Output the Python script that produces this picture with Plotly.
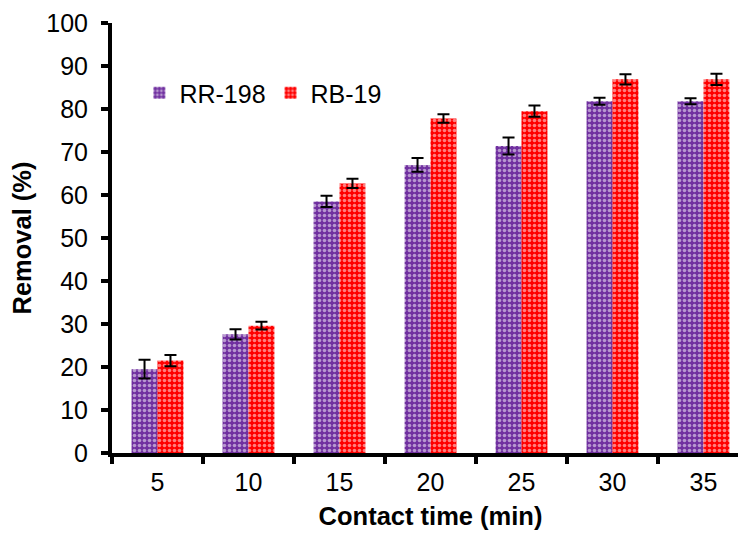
import plotly.graph_objects as go

categories = ["5", "10", "15", "20", "25", "30", "35"]
rr198 = [19.5, 27.6, 58.5, 67.0, 71.4, 81.8, 81.8]
rr198_err = [2.2, 1.2, 1.3, 1.6, 2.0, 0.8, 0.7]
rb19 = [21.5, 29.6, 62.7, 77.8, 79.5, 86.9, 86.9]
rb19_err = [1.3, 0.9, 1.1, 1.0, 1.3, 1.2, 1.3]

PURPLE = "#7030A0"
RED = "#FF0000"

fig = go.Figure()
for name, vals, errs, col in [("RR-198", rr198, rr198_err, PURPLE), ("RB-19", rb19, rb19_err, RED)]:
    fig.add_trace(go.Bar(
        x=categories, y=vals, name=name,
        marker=dict(color=col, line=dict(width=0),
                    pattern=dict(shape=".", size=5, solidity=0.4, fgcolor="white", bgcolor=col)),
        error_y=dict(type="data", array=errs, visible=True, color="black", thickness=2, width=6),
    ))

font = "Liberation Sans, Arial, sans-serif"
fig.update_layout(
    width=746, height=533,
    margin=dict(l=104, r=5, t=15, b=88, autoexpand=False),
    paper_bgcolor="white", plot_bgcolor="white",
    barmode="group", bargap=0.43, bargroupgap=0,
    font=dict(family=font, size=25, color="black"),
    legend=dict(orientation="h", x=0.043, y=0.837, xanchor="left", yanchor="middle",
                font=dict(size=25), itemwidth=30, bgcolor="rgba(0,0,0,0)"),
    xaxis=dict(title=dict(text="<b>Contact time (min)</b>", font=dict(size=25.5), standoff=13),
               automargin=False,
               showline=True, linecolor="black", linewidth=4,
               ticks="outside", tickson="boundaries", ticklen=7, tickwidth=4, tickcolor="black",
               ticklabelstandoff=4, showgrid=False, zeroline=False),
    yaxis=dict(title=dict(text="<b>Removal (%)</b>", font=dict(size=25.5), standoff=14),
               automargin=False,
               range=[0, 100], dtick=10, showline=True, linecolor="black", linewidth=4,
               ticks="outside", ticklen=7, tickwidth=4, tickcolor="black",
               ticklabelstandoff=8, showgrid=False, zeroline=False),
)
fig.write_html("out.html")
